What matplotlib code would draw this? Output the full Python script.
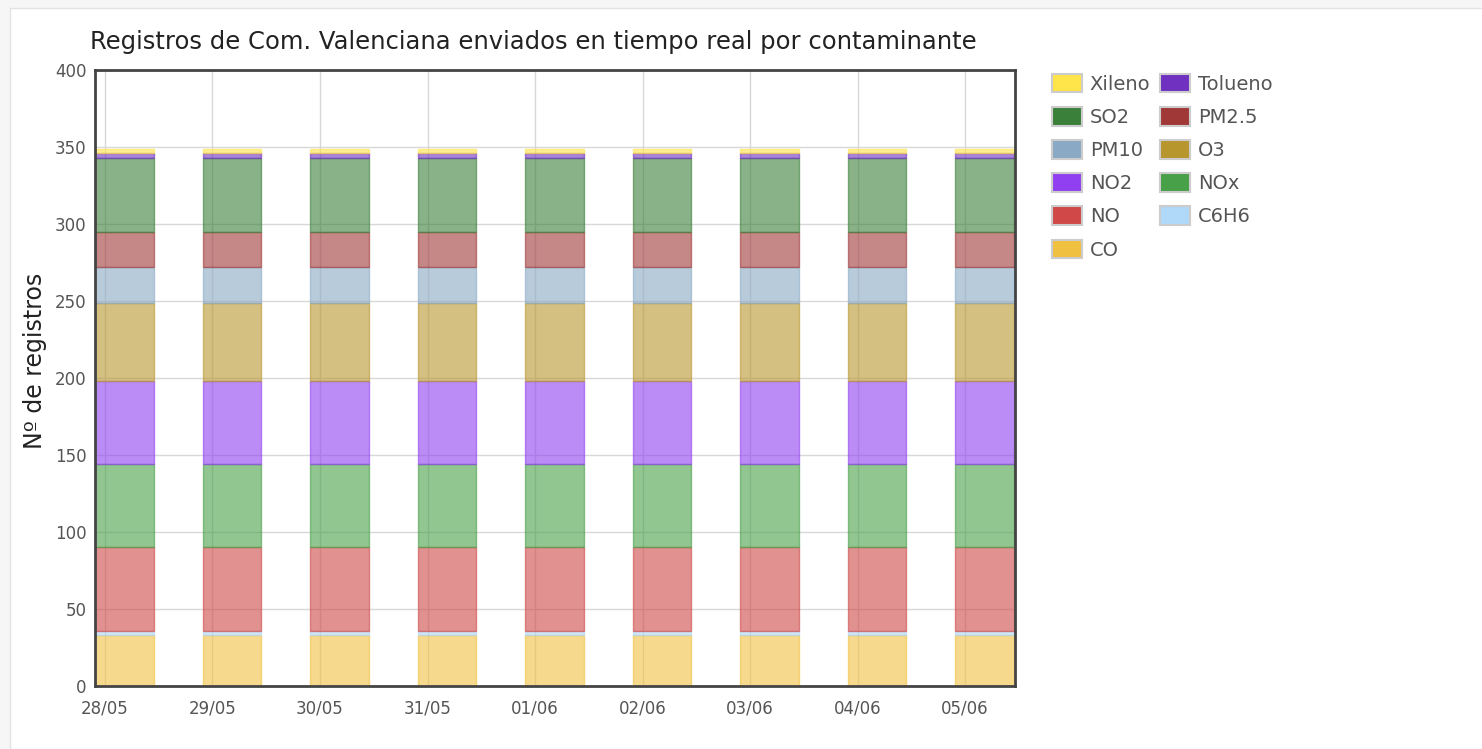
import numpy as np
import matplotlib.pyplot as plt
from matplotlib.patches import Rectangle, Patch

# Data
fechas = ["28/05", "29/05", "30/05", "31/05", "01/06", "02/06", "03/06", "04/06", "05/06"]
# stack order, bottom to top
contaminantes = ["CO", "C6H6", "NO", "NOx", "NO2", "O3", "PM10", "PM2.5", "SO2", "Tolueno", "Xileno"]
co = [33, 33, 33, 33, 33, 33, 33, 33, 33]
c6h6 = [3, 3, 3, 3, 3, 3, 3, 3, 3]
no = [54, 54, 54, 54, 54, 54, 54, 54, 54]
nox = [54, 54, 54, 54, 54, 54, 54, 54, 54]
no2 = [54, 54, 54, 54, 54, 54, 54, 54, 54]
o3 = [51, 51, 51, 51, 51, 51, 51, 51, 51]
pm10 = [23, 23, 23, 23, 23, 23, 23, 23, 23]
pm25 = [23, 23, 23, 23, 23, 23, 23, 23, 23]
so2 = [48, 48, 48, 48, 48, 48, 48, 48, 48]
tolueno = [3, 3, 3, 3, 3, 3, 3, 3, 3]
xileno = [3, 3, 3, 3, 3, 3, 3, 3, 3]
series = [co, c6h6, no, nox, no2, o3, pm10, pm25, so2, tolueno, xileno]

colores = {
    "CO": "#f0c040", "C6H6": "#b0d8f8", "NO": "#d04848", "NOx": "#48a048",
    "NO2": "#9040f0", "O3": "#b8962e", "PM10": "#8aa9c4", "PM2.5": "#a03838",
    "SO2": "#3a7f3a", "Tolueno": "#7030c0", "Xileno": "#ffe44a",
}

fig = plt.figure(figsize=(14.82, 7.49), dpi=100)
fig.patch.set_facecolor("#f6f6f6")
fig.patches.append(Rectangle((10 / 1482, 0), 1, 1 - 8 / 749, transform=fig.transFigure,
                             facecolor="white", edgecolor="#e2e2e2", lw=1, zorder=-10))

ax = fig.add_axes([95 / 1482, 1 - 686 / 749, (1015 - 95) / 1482, (686 - 70) / 749])
x = np.arange(len(fechas))
bottom = np.zeros(len(fechas))
for nombre, vals in zip(contaminantes, series):
    ax.bar(x + 0.18, vals, width=0.545, bottom=bottom, color=colores[nombre], alpha=0.6,
           edgecolor=colores[nombre], linewidth=1, zorder=3)
    bottom += np.array(vals)

ax.set_xlim(-0.093, 8.465)
ax.set_ylim(0, 400)
ax.set_yticks(np.arange(0, 401, 50))
ax.set_xticks(x)
ax.set_xticklabels(fechas)
ax.grid(True, color="#d8d8d8", lw=1, zorder=0)
ax.tick_params(length=0, labelsize=12, colors="#555555")
ax.tick_params(axis="x", pad=10)
ax.tick_params(axis="y", pad=6)
for s in ax.spines.values():
    s.set_color("#444444")
    s.set_linewidth(2)
    s.set_zorder(5)
ax.set_ylabel("Nº de registros", fontsize=17, color="#222222")
ax.yaxis.set_label_coords(-0.052, 0.527)

fig.text(90 / 1482, 1 - 42 / 749, "Registros de Com. Valenciana enviados en tiempo real por contaminante",
         fontsize=17.5, color="#222222", va="center", ha="left")

# legend, read row by row from top of stack
orden = ["Xileno", "SO2", "PM10", "NO2", "NO", "CO", "Tolueno", "PM2.5", "O3", "NOx", "C6H6"]
handles = [Patch(facecolor=colores[n], edgecolor="#cccccc", lw=1.5) for n in orden]
leg = fig.legend(handles, orden, loc="upper left", bbox_to_anchor=(1044 / 1482, 1 - 66 / 749),
                 ncol=2, frameon=False, fontsize=14, handlelength=1.55, handleheight=1.1,
                 handletextpad=0.4, columnspacing=0.5, labelspacing=0.68, borderaxespad=0)
for t in leg.get_texts():
    t.set_color("#555555")

fig.savefig("out.png", dpi=100, facecolor=fig.get_facecolor())
